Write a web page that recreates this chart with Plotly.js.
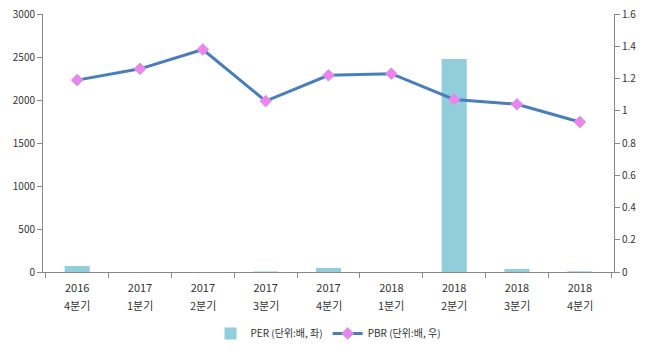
<!DOCTYPE html>
<html><head><meta charset="utf-8">
<script src="https://cdn.plot.ly/plotly-3.0.1.min.js"></script>
<style>html,body{margin:0;padding:0;background:#fff}#chart{width:647px;height:351px}</style>
</head><body><div id="chart"></div>
<script>
const years = ["2016","2017","2017","2017","2017","2018","2018","2018","2018"];
const quarters = ["4분기","1분기","2분기","3분기","4분기","1분기","2분기","3분기","4분기"];
const perValues = [70, 0, 0, 6, 47, 0, 2477, 35, 8];
const pbrValues = [1.19, 1.26, 1.38, 1.06, 1.22, 1.23, 1.07, 1.04, 0.93];
const leftTicks = [0, 500, 1000, 1500, 2000, 2500, 3000];
const rightTicks = [0, 0.2, 0.4, 0.6, 0.8, 1, 1.2, 1.4, 1.6];

const categories = years.map((y, i) => y + " " + quarters[i]);
const fam = "'Noto Sans CJK KR', 'DejaVu Sans', sans-serif";
const font = {family: fam, size: 10, color: "#333"};
const xfont = {family: fam, size: 11, color: "#333"};
const traces = [
  {type: "bar", x: categories, y: perValues, name: "PER (단위:배, 좌)",
   marker: {color: "#92CDDC"}, width: 0.4, yaxis: "y"},
  {type: "scatter", mode: "lines+markers", x: categories, y: pbrValues, name: "PBR (단위:배, 우)",
   line: {color: "#4A7EBB", width: 3}, marker: {symbol: "diamond", size: 9, color: "#EE82EE", line: {color: "#C9A0DC", width: 1}}, yaxis: "y2"}
];
const annotations = categories.map((c, i) => ({
  x: c, xref: "x", y: 0, yref: "paper", yanchor: "middle", yshift: -33,
  text: quarters[i], showarrow: false, font: xfont
}));
const layout = {
  width: 647, height: 351,
  margin: {l: 43, r: 33, t: 14, b: 79},
  paper_bgcolor: "#fff", plot_bgcolor: "#fff",
  font: font,
  showlegend: true,
  annotations: annotations,
  legend: {orientation: "h", x: 0.5, xanchor: "center", xref: "paper", y: 0.05, yref: "container", yanchor: "middle", font: font, itemwidth: 30},
  xaxis: {type: "category", tickson: "boundaries", ticks: "outside", ticklen: 5, tickcolor: "#888",
          tickvals: categories, ticktext: years,
          showline: true, linecolor: "#888", linewidth: 1, showgrid: false, tickfont: xfont, zeroline: false,
          ticklabelstandoff: 6, automargin: false},
  yaxis: {range: [0, 3000], tickvals: leftTicks, ticks: "outside", ticklen: 5, tickcolor: "#888",
          showline: true, linecolor: "#888", showgrid: false, zeroline: false, tickfont: font, automargin: false},
  yaxis2: {range: [0, 1.6], tickvals: rightTicks, overlaying: "y", side: "right", ticks: "outside", ticklen: 5,
           tickcolor: "#888", showline: true, linecolor: "#888", showgrid: false, zeroline: false, tickfont: font, automargin: false}
};
Plotly.newPlot("chart", traces, layout, {displayModeBar: false, staticPlot: true});
</script></body></html>
